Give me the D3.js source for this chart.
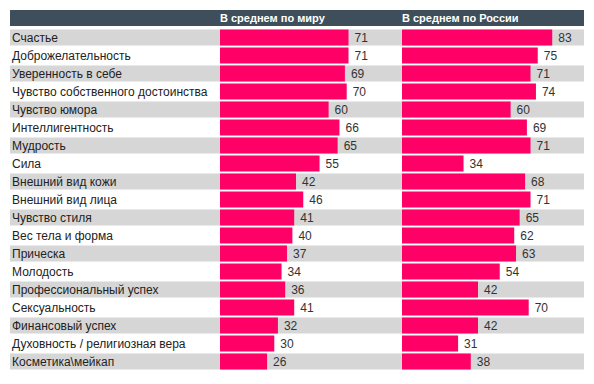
<!DOCTYPE html>
<html>
<head>
<meta charset="utf-8">
<script src="https://cdn.jsdelivr.net/npm/d3@7"></script>
<style>
  body { margin: 0; background: #fff; }
  text { font-family: "Liberation Sans", Arial, sans-serif; font-size: 12px; }
</style>
</head>
<body>
<div id="chart"></div>
<script>
(function() {

var categories = ["Счастье", "Доброжелательность", "Уверенность в себе", "Чувство собственного достоинства",
  "Чувство юмора", "Интеллигентность", "Мудрость", "Сила", "Внешний вид кожи", "Внешний вид лица",
  "Чувство стиля", "Вес тела и форма", "Прическа", "Молодость", "Профессиональный успех",
  "Сексуальность", "Финансовый успех", "Духовность / религиозная вера", "Косметика\\мейкап"];

var worldValues  = [71, 71, 69, 70, 60, 66, 65, 55, 42, 46, 41, 40, 37, 34, 36, 41, 32, 30, 26];
var russiaValues = [83, 75, 71, 74, 60, 69, 71, 34, 68, 71, 65, 62, 63, 54, 42, 70, 42, 31, 38];

var seriesNames = ["В среднем по миру", "В среднем по России"];

var width = 594, height = 384;

var svg = d3.select("#chart").append("svg")
    .attr("width", width)
    .attr("height", height);

var y = d3.scaleBand()
    .domain(categories)
    .range([29.5, 369.5])
    .paddingInner(2 / 18)
    .paddingOuter(0);

// both panels share the same value scale (~1.81 px per unit)
var xWorld = d3.scaleLinear().domain([0, 100]).range([220, 401]);
var xRussia = d3.scaleLinear().domain([0, 100]).range([402, 583]);

// header strip
svg.append("rect")
    .attr("x", 10)
    .attr("y", 10)
    .attr("width", 574)
    .attr("height", 16)
    .style("fill", "#3e4f5b");

svg.selectAll(".head")
    .data(seriesNames)
  .enter().append("text")
    .attr("class", "head")
    .attr("x", function(d, i) { return i == 0 ? xWorld(0) : xRussia(0); })
    .attr("y", 18)
    .attr("dy", "0.35em")
    .style("fill", "#fff")
    .style("font-weight", "bold")
    .style("font-size", "11px")
    .text(function(d) { return d; });

// stripes
svg.selectAll(".stripe")
    .data(categories.filter(function(d, i) { return i % 2 == 0; }))
  .enter().append("rect")
    .attr("class", "stripe")
    .attr("x", 10)
    .attr("y", function(d) { return y(d); })
    .attr("width", 574)
    .attr("height", y.bandwidth())
    .style("fill", "#d6d6d6");

svg.selectAll(".label")
    .data(categories)
  .enter().append("text")
    .attr("class", "label")
    .attr("x", 12)
    .attr("y", function(d) { return y(d) + y.bandwidth() / 2; })
    .attr("dy", "0.35em")
    .style("fill", "#222")
    .text(function(d) { return d; });

function drawSeries(values, x, cls) {
  svg.selectAll(".bar-" + cls)
      .data(values)
    .enter().append("rect")
      .attr("class", "bar-" + cls)
      .attr("x", x(0))
      .attr("y", function(d, i) { return y(categories[i]); })
      .attr("width", function(d) { return x(d) - x(0); })
      .attr("height", y.bandwidth())
      .style("fill", "#ff0066");

  svg.selectAll(".val-" + cls)
      .data(values)
    .enter().append("text")
      .attr("class", "val-" + cls)
      .attr("x", function(d) { return x(d) + 6; })
      .attr("y", function(d, i) { return y(categories[i]) + y.bandwidth() / 2; })
      .attr("dy", "0.35em")
      .style("fill", "#333")
      .text(function(d) { return d; });
}

drawSeries(worldValues, xWorld, "world");
drawSeries(russiaValues, xRussia, "russia");

})()
</script>
</body>
</html>
